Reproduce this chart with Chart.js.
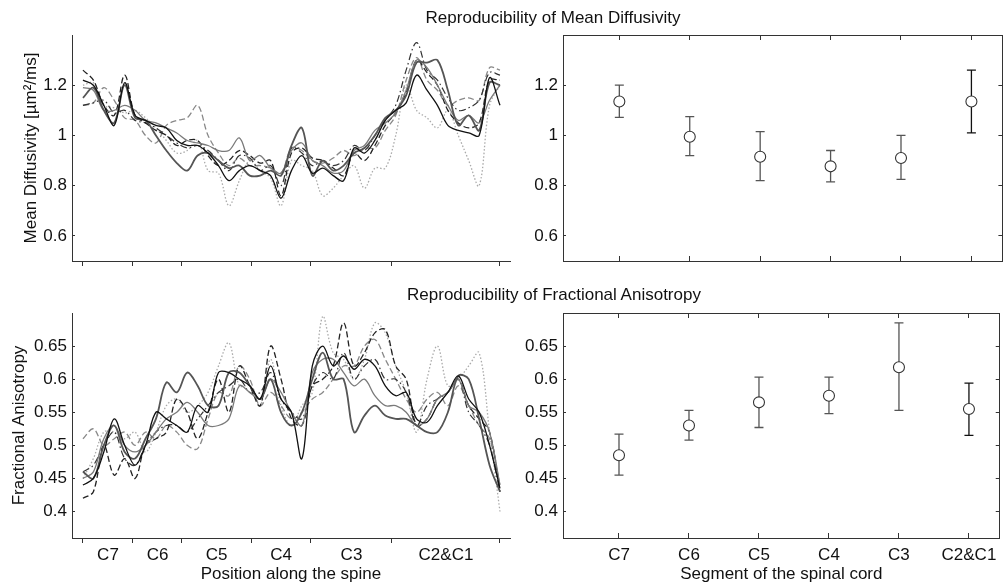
<!DOCTYPE html>
<html>
<head>
<meta charset="utf-8">
<script src="https://cdn.jsdelivr.net/npm/chart.js@4.4.1/dist/chart.umd.min.js"></script>
<style>
  body { margin: 0; background: #fff; }
  #wrap { position: relative; width: 1003px; height: 588px; overflow: hidden; font-family: "Liberation Sans", Arial, sans-serif; color: #111; }
  .panel { position: absolute; }
  .ttl { position: absolute; width: 600px; text-align: center; font-size: 17px; line-height: 20px; }
</style>
</head>
<body>
<div id="wrap">
  <div class="panel" style="left:0;top:0;width:520px;height:280px"><canvas id="mdLine"></canvas></div>
  <div class="panel" style="left:520px;top:0;width:489px;height:280px"><canvas id="mdErr"></canvas></div>
  <div class="panel" style="left:0;top:280px;width:520px;height:308px"><canvas id="faLine"></canvas></div>
  <div class="panel" style="left:520px;top:280px;width:489px;height:308px"><canvas id="faErr"></canvas></div>
  <div class="ttl" style="left:253px;top:8px">Reproducibility of Mean Diffusivity</div>
  <div class="ttl" style="left:254px;top:285px">Reproducibility of Fractional Anisotropy</div>
</div>
<script>
// segment names, boundaries along the spine (sample index) and label positions
const segLabels = ["C7", "C6", "C5", "C4", "C3", "C2&C1"];
const segBounds = [0, 4.8, 9.5, 16.12, 21.87, 29.64, 40];

// mean diffusivity profiles, one per scan
const mdS1 = [1.22, 1.20, 1.12, 1.04, 1.21, 1.08, 1.06, 1.04, 1.03, 0.98,
  0.96, 0.96, 0.93, 0.88, 0.82, 0.86, 0.88, 0.86, 0.84, 0.75,
  0.86, 0.92, 0.85, 0.87, 0.84, 0.82, 0.95, 0.93, 0.98, 1.06,
  1.10, 1.13, 1.24, 1.18, 1.12, 1.04, 1.02, 1.01, 1.00, 1.23, 1.12];
const mdS2 = [1.15, 1.19, 1.10, 1.05, 1.20, 1.07, 1.06, 1.00, 0.94, 0.89,
  0.86, 0.92, 0.93, 0.90, 0.87, 0.88, 0.84, 0.84, 0.86, 0.84,
  0.96, 1.03, 0.84, 0.90, 0.86, 0.88, 0.93, 0.95, 1.00, 1.07,
  1.10, 1.16, 1.29, 1.29, 1.30, 1.18, 1.04, 1.08, 1.02, 1.21, 1.20];
const mdS3 = [1.19, 1.18, 1.10, 1.10, 1.12, 1.10, 1.06, 1.05, 1.03, 1.01,
  0.98, 0.97, 0.96, 0.94, 0.94, 0.99, 0.90, 0.92, 0.87, 0.85,
  0.94, 0.97, 0.90, 0.88, 0.85, 0.86, 0.94, 0.96, 1.02, 1.05,
  1.09, 1.18, 1.30, 1.27, 1.20, 1.12, 1.06, 1.08, 1.05, 1.14, 1.20];
const mdS4 = [1.26, 1.22, 1.12, 1.08, 1.24, 1.08, 1.05, 1.02, 1.00, 0.96,
  0.98, 0.98, 0.92, 0.88, 0.90, 0.94, 0.92, 0.89, 0.90, 0.76,
  0.93, 0.95, 0.91, 0.90, 0.87, 0.84, 0.93, 0.90, 0.96, 1.04,
  1.09, 1.17, 1.30, 1.25, 1.20, 1.10, 1.05, 1.03, 1.05, 1.22, 1.22];
const mdS5 = [1.12, 1.13, 1.14, 1.09, 1.10, 1.06, 1.05, 1.03, 1.00, 0.97,
  0.95, 0.96, 0.94, 0.90, 0.86, 0.92, 0.91, 0.86, 0.88, 0.80,
  0.95, 0.93, 0.88, 0.90, 0.88, 0.90, 0.96, 0.94, 1.00, 1.06,
  1.12, 1.26, 1.37, 1.26, 1.22, 1.15, 1.10, 1.11, 1.14, 1.25, 1.24];
const mdS6 = [1.12, 1.13, 1.19, 1.14, 1.07, 1.06, 1.00, 0.97, 1.04, 1.06,
  1.07, 1.12, 1.00, 0.93, 0.88, 0.91, 0.88, 0.88, 0.87, 0.85,
  0.95, 0.94, 0.90, 0.89, 0.91, 0.94, 0.92, 0.95, 0.95, 1.02,
  1.08, 1.22, 1.31, 1.22, 1.18, 1.12, 1.14, 1.15, 1.14, 1.27, 1.26];
const mdS7 = [1.20, 1.21, 1.12, 1.11, 1.09, 1.10, 1.07, 1.03, 0.98, 0.93,
  0.94, 0.98, 0.86, 0.85, 0.72, 0.82, 0.90, 0.86, 0.83, 0.72,
  0.90, 0.88, 0.86, 0.76, 0.79, 0.84, 0.88, 0.79, 0.87, 0.87,
  1.00, 1.20, 1.10, 1.07, 1.03, 1.10, 1.00, 0.90, 0.80, 1.12, 1.20];

// fractional anisotropy profiles
const faS1 = [0.44, 0.45, 0.49, 0.54, 0.50, 0.47, 0.50, 0.55, 0.54, 0.53,
  0.52, 0.56, 0.55, 0.61, 0.61, 0.60, 0.59, 0.57, 0.62, 0.57,
  0.55, 0.48, 0.62, 0.65, 0.62, 0.635, 0.615, 0.63, 0.62, 0.59,
  0.575, 0.58, 0.54, 0.535, 0.56, 0.58, 0.605, 0.57, 0.55, 0.50, 0.435];
const faS2 = [0.46, 0.45, 0.50, 0.53, 0.49, 0.48, 0.51, 0.54, 0.595, 0.58,
  0.61, 0.59, 0.56, 0.56, 0.61, 0.61, 0.59, 0.57, 0.60, 0.55,
  0.53, 0.55, 0.60, 0.64, 0.60, 0.60, 0.52, 0.545, 0.56, 0.545,
  0.54, 0.54, 0.53, 0.52, 0.52, 0.55, 0.605, 0.60, 0.54, 0.47, 0.43];
const faS3 = [0.45, 0.46, 0.51, 0.53, 0.50, 0.49, 0.50, 0.52, 0.54, 0.55,
  0.565, 0.55, 0.53, 0.53, 0.54, 0.59, 0.58, 0.57, 0.60, 0.58,
  0.55, 0.53, 0.61, 0.63, 0.63, 0.61, 0.59, 0.60, 0.575, 0.56,
  0.56, 0.55, 0.53, 0.54, 0.57, 0.58, 0.60, 0.56, 0.55, 0.52, 0.44];
const faS4 = [0.42, 0.43, 0.50, 0.455, 0.48, 0.45, 0.50, 0.51, 0.52, 0.57,
  0.55, 0.51, 0.55, 0.60, 0.55, 0.62, 0.59, 0.56, 0.65, 0.60,
  0.54, 0.53, 0.59, 0.60, 0.62, 0.685, 0.62, 0.64, 0.67, 0.675,
  0.62, 0.60, 0.53, 0.54, 0.57, 0.58, 0.60, 0.56, 0.54, 0.52, 0.43];
const faS5 = [0.46, 0.47, 0.50, 0.52, 0.48, 0.47, 0.50, 0.52, 0.53, 0.53,
  0.52, 0.54, 0.56, 0.58, 0.59, 0.60, 0.58, 0.58, 0.61, 0.57,
  0.55, 0.54, 0.59, 0.61, 0.60, 0.64, 0.60, 0.62, 0.63, 0.60,
  0.60, 0.58, 0.53, 0.56, 0.57, 0.58, 0.60, 0.55, 0.53, 0.50, 0.43];
const faS6 = [0.51, 0.525, 0.50, 0.51, 0.52, 0.50, 0.52, 0.51, 0.53, 0.52,
  0.50, 0.495, 0.54, 0.58, 0.575, 0.62, 0.60, 0.56, 0.58, 0.56,
  0.54, 0.55, 0.57, 0.58, 0.60, 0.62, 0.62, 0.65, 0.66, 0.63,
  0.60, 0.57, 0.55, 0.57, 0.58, 0.56, 0.59, 0.56, 0.53, 0.51, 0.44];
const faS7 = [0.45, 0.48, 0.52, 0.52, 0.51, 0.52, 0.49, 0.52, 0.56, 0.57,
  0.55, 0.56, 0.58, 0.62, 0.655, 0.59, 0.59, 0.56, 0.63, 0.56,
  0.53, 0.56, 0.58, 0.695, 0.64, 0.63, 0.60, 0.63, 0.685, 0.67,
  0.62, 0.58, 0.52, 0.60, 0.65, 0.59, 0.60, 0.62, 0.64, 0.52, 0.40];

// per-segment mean and spread
const mdMean = [1.135, 0.995, 0.915, 0.877, 0.91, 1.135];
const mdLow = [1.072, 0.92, 0.82, 0.815, 0.825, 1.01];
const mdHigh = [1.2, 1.075, 1.015, 0.94, 1.0, 1.26];
const faMean = [0.485, 0.53, 0.565, 0.575, 0.618, 0.555];
const faLow = [0.455, 0.508, 0.527, 0.548, 0.553, 0.515];
const faHigh = [0.517, 0.553, 0.603, 0.603, 0.685, 0.594];

const mdTicks = [0.6, 0.8, 1.0, 1.2];
const faTicks = [0.4, 0.45, 0.5, 0.55, 0.6, 0.65];

const FONT = "'Liberation Sans', Arial, sans-serif";
const AXIS = "#333";
const lineStyles = [
  { color: "#111", width: 1.3, dash: [] },
  { color: "#555", width: 1.8, dash: [] },
  { color: "#7a7a7a", width: 1.3, dash: [] },
  { color: "#222", width: 1.3, dash: [6, 3] },
  { color: "#333", width: 1.2, dash: [7, 3, 1.5, 3] },
  { color: "#888", width: 1.3, dash: [6, 3] },
  { color: "#aaa", width: 1.3, dash: [1.5, 2] },
];

Chart.defaults.font.family = FONT;
Chart.defaults.font.size = 17;
Chart.defaults.color = "#111";

// midpoints between segment boundaries carry the labels
const boundTicks = [];
segBounds.forEach((b, i) => {
  boundTicks.push(b);
  if (i < segBounds.length - 1) boundTicks.push((b + segBounds[i + 1]) / 2);
});

const fmt = (v) => String(+v.toFixed(2));
const segTicks = segLabels.map((s, i) => i + 1);

function lineChart(id, series, yMin, yMax, yTicks, yTitle, titlePad, withLabels) {
  new Chart(document.getElementById(id), {
    type: "line",
    data: {
      datasets: series.map((s, k) => ({
        data: s.map((v, i) => ({ x: i, y: v })),
        borderColor: lineStyles[k].color,
        borderWidth: lineStyles[k].width,
        borderDash: lineStyles[k].dash,
        pointRadius: 0,
        tension: 0.35,
        fill: false,
      })),
    },
    options: {
      responsive: true,
      maintainAspectRatio: false,
      animation: false,
      layout: { padding: { top: withLabels ? 33 : 35, right: 10, left: 0, bottom: 0 } },
      plugins: { legend: { display: false }, tooltip: { enabled: false } },
      scales: {
        x: {
          type: "linear",
          min: -1.05,
          max: 40.96,
          afterBuildTicks: (scale) => {
            scale.ticks = (withLabels ? boundTicks : segBounds).map((v) => ({ value: v }));
          },
          afterFit: (scale) => { scale.height = withLabels ? 50 : 19; },
          ticks: {
            autoSkip: false,
            maxRotation: 0,
            padding: 2,
            callback: (v, i) => (withLabels && i % 2 ? segLabels[(i - 1) / 2] : ""),
          },
          grid: {
            drawOnChartArea: false,
            tickLength: 5,
            tickColor: (ctx) => (withLabels && ctx.index % 2 ? "rgba(0,0,0,0)" : AXIS),
          },
          border: { color: AXIS },
          title: { display: withLabels, text: "Position along the spine", padding: { top: 0, bottom: 3 } },
        },
        y: {
          min: yMin,
          max: yMax,
          afterBuildTicks: (scale) => { scale.ticks = yTicks.map((v) => ({ value: v })); },
          afterFit: (scale) => { scale.width = 72; },
          ticks: { padding: 8, callback: fmt },
          grid: { drawOnChartArea: false, tickLength: -3, tickColor: AXIS },
          border: { color: AXIS },
          title: { display: true, text: yTitle, padding: { top: titlePad, bottom: 0 } },
        },
      },
    },
  });
}

const errorBars = {
  id: "errorBars",
  beforeDatasetsDraw(chart, args, opts) {
    const { ctx, scales: { x, y } } = chart;
    ctx.save();
    ctx.lineWidth = 1.3;
    opts.low.forEach((lo, i) => {
      const px = x.getPixelForValue(i + 1);
      const yl = y.getPixelForValue(lo);
      const yh = y.getPixelForValue(opts.high[i]);
      ctx.strokeStyle = i === opts.low.length - 1 ? "#111" : "#555";
      ctx.beginPath();
      ctx.moveTo(px, yl); ctx.lineTo(px, yh);
      ctx.moveTo(px - 4.5, yl); ctx.lineTo(px + 4.5, yl);
      ctx.moveTo(px - 4.5, yh); ctx.lineTo(px + 4.5, yh);
      ctx.stroke();
    });
    ctx.restore();
  },
};

function errChart(id, mean, low, high, yMin, yMax, yTicks, withLabels) {
  new Chart(document.getElementById(id), {
    type: "scatter",
    data: {
      datasets: [{
        data: mean.map((v, i) => ({ x: i + 1, y: v })),
        pointStyle: "circle",
        pointRadius: 5.5,
        borderColor: "#333",
        borderWidth: 1.1,
        backgroundColor: "#fff",
      }],
    },
    plugins: [errorBars],
    options: {
      responsive: true,
      maintainAspectRatio: false,
      animation: false,
      layout: { padding: { top: withLabels ? 33 : 35, right: 0, left: 0, bottom: 0 } },
      plugins: {
        legend: { display: false },
        tooltip: { enabled: false },
        errorBars: { low: low, high: high },
      },
      scales: {
        x: {
          type: "linear",
          min: 0.2,
          max: 6.44,
          afterBuildTicks: (scale) => { scale.ticks = segTicks.map((v) => ({ value: v })); },
          afterFit: (scale) => { scale.height = withLabels ? 50 : 19; },
          ticks: {
            autoSkip: false,
            maxRotation: 0,
            padding: 12,
            callback: (v, i) => (withLabels ? segLabels[i] : ""),
          },
          grid: { drawOnChartArea: false, tickLength: -5, tickColor: AXIS },
          border: { color: AXIS },
          title: { display: withLabels, text: "Segment of the spinal cord", padding: { top: 0, bottom: 3 } },
        },
        x2: {
          type: "linear",
          position: "top",
          min: 0.2,
          max: 6.44,
          afterBuildTicks: (scale) => { scale.ticks = segTicks.map((v) => ({ value: v })); },
          afterFit: (scale) => { scale.height = 0; },
          ticks: { display: false },
          grid: { drawOnChartArea: false, tickLength: -5, tickColor: AXIS },
          border: { color: AXIS },
        },
        y: {
          min: yMin,
          max: yMax,
          afterBuildTicks: (scale) => { scale.ticks = yTicks.map((v) => ({ value: v })); },
          afterFit: (scale) => { scale.width = 43; },
          ticks: { padding: 8, callback: fmt },
          grid: { drawOnChartArea: false, tickLength: -3, tickColor: AXIS },
          border: { color: AXIS },
        },
        y2: {
          min: yMin,
          max: yMax,
          position: "right",
          afterBuildTicks: (scale) => { scale.ticks = yTicks.map((v) => ({ value: v })); },
          afterFit: (scale) => { scale.width = 0; },
          ticks: { display: false },
          grid: { drawOnChartArea: false, tickLength: -4, tickColor: AXIS },
          border: { color: AXIS },
        },
      },
    },
  });
}

lineChart("mdLine", [mdS1, mdS2, mdS3, mdS4, mdS5, mdS6, mdS7], 0.5, 1.4, mdTicks,
  "Mean Diffusivity [\u00b5m\u00b2/ms]", 21, false);
lineChart("faLine", [faS1, faS2, faS3, faS4, faS5, faS6, faS7], 0.36, 0.70, faTicks,
  "Fractional Anisotropy", 9, true);
errChart("mdErr", mdMean, mdLow, mdHigh, 0.5, 1.4, mdTicks, false);
errChart("faErr", faMean, faLow, faHigh, 0.36, 0.70, faTicks, true);
</script>
</body>
</html>
